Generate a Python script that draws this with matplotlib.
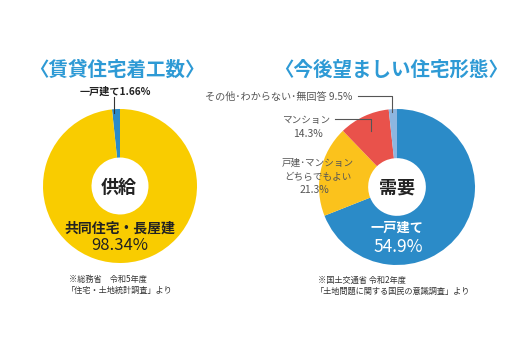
import matplotlib
matplotlib.use("Agg")
import matplotlib.pyplot as plt

plt.rcParams['font.family'] = ['Noto Sans CJK JP', 'DejaVu Sans']

# ---- data ----
supply_labels = ["一戸建て", "共同住宅・長屋建"]
supply_values = [1.66, 98.34]
supply_colors = ["#2B8BC8", "#F9CC00"]

# slice sizes as drawn in the picture (clockwise from top)
demand_labels = ["一戸建て", "戸建･マンションどちらでもよい", "マンション", "その他･わからない･無回答"]
demand_values = [69.0, 18.8, 10.5, 1.7]
demand_label_pct = ["54.9%", "21.3%", "14.3%", "9.5%"]
demand_colors = ["#2B8BC8", "#FBC21C", "#E9524B", "#8DB6E0"]

title_left = "〈賃貸住宅着工数〉"
title_right = "〈今後望ましい住宅形態〉"
center_left = "供給"
center_right = "需要"
source_left = ["※総務省　令和5年度", "「住宅・土地統計調査」より"]
source_right = ["※国土交通省 令和2年度", "「土地問題に関する国民の意識調査」より"]

W, H = 518, 357
fig = plt.figure(figsize=(W / 100, H / 100), dpi=100)
ax = fig.add_axes([0, 0, 1, 1])
ax.set_xlim(0, W)
ax.set_ylim(0, H)
ax.axis('off')


def Y(p):
    return H - p


TITLE_C = "#2E9AD5"
GRAY = "#555555"

# titles
ax.text(117, Y(70), title_left, ha='center', va='center', fontsize=14, color=TITLE_C, fontweight='bold')
ax.text(391, Y(70), title_right, ha='center', va='center', fontsize=14, color=TITLE_C, fontweight='bold')

# left donut
cl = (120, Y(186)); rl = 77
ax.pie(supply_values, colors=supply_colors, startangle=90, counterclock=True,
       center=cl, radius=rl, wedgeprops=dict(width=rl * 0.63, edgecolor='none'))
# right donut
cr = (397, Y(187)); rr = 78
ax.pie(demand_values, colors=demand_colors, startangle=90, counterclock=False,
       center=cr, radius=rr, wedgeprops=dict(width=rr * 0.63, edgecolor='none'))
ax.set_xlim(0, W)
ax.set_ylim(0, H)
ax.set_aspect('equal')

# left texts
ax.text(115, Y(92), supply_labels[0] + f"{supply_values[0]:.2f}%", ha='center', va='center',
        fontsize=7.3, fontweight='bold', color="#222222")
ax.plot([114, 114], [Y(97), Y(113)], color="#333333", lw=0.8)
ax.text(119, Y(187), center_left, ha='center', va='center', fontsize=13, fontweight='bold', color="#222222")
ax.text(120, Y(229), supply_labels[1], ha='center', va='center', fontsize=10, fontweight='bold', color="#222222")
ax.text(120, Y(245), f"{supply_values[1]:.2f}%", ha='center', va='center', fontsize=12, color="#222222")
ax.text(69, Y(279), source_left[0], ha='left', va='center', fontsize=5.9, color="#333333")
ax.text(67, Y(290), source_left[1], ha='left', va='center', fontsize=5.9, color="#333333")

# right texts
ax.text(397, Y(188), center_right, ha='center', va='center', fontsize=13, fontweight='bold', color="#222222")
ax.text(397, Y(228), demand_labels[0], ha='center', va='center', fontsize=9.5, fontweight='bold', color="white")
ax.text(398, Y(247), demand_label_pct[0], ha='center', va='center', fontsize=12.5, color="white")

ax.text(352, Y(97), demand_labels[3] + " " + demand_label_pct[3], ha='right', va='center', fontsize=7.3, color=GRAY)
ax.plot([358, 392, 392], [Y(96), Y(96), Y(112)], color=GRAY, lw=0.8)

ax.text(306, Y(120), demand_labels[2], ha='center', va='center', fontsize=6.9, color=GRAY)
ax.text(308, Y(134), demand_label_pct[2], ha='center', va='center', fontsize=7.5, color=GRAY)
ax.plot([335, 371, 371], [Y(119), Y(119), Y(131)], color=GRAY, lw=0.8)

ax.text(318, Y(163), "戸建･マンション", ha='center', va='center', fontsize=6.9, color=GRAY)
ax.text(318, Y(177), "どちらでもよい", ha='center', va='center', fontsize=6.9, color=GRAY)
ax.text(314, Y(190), demand_label_pct[1], ha='center', va='center', fontsize=7.5, color=GRAY)

ax.text(318, Y(280), source_right[0], ha='left', va='center', fontsize=5.9, color="#333333")
ax.text(316, Y(291), source_right[1], ha='left', va='center', fontsize=5.9, color="#333333")

fig.savefig("out.png", dpi=100)
